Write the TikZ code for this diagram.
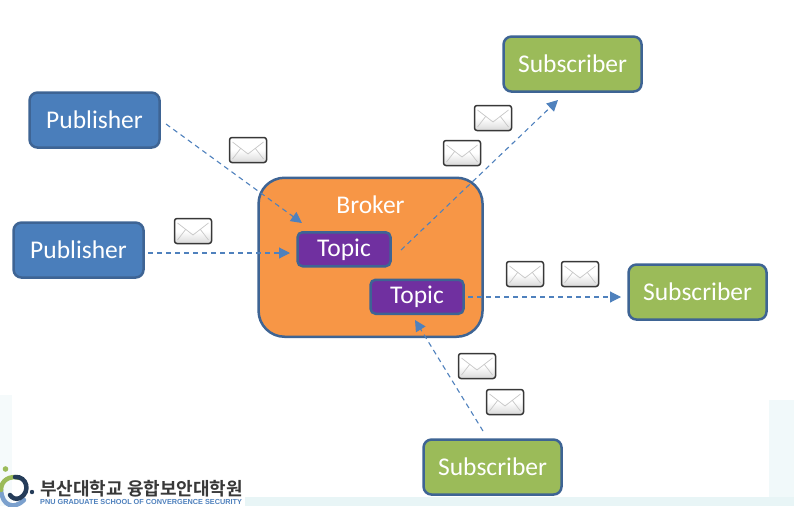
\documentclass[tikz,border=0pt]{standalone}
\usepackage{fontspec}
\setmainfont{Carlito}
\newfontfamily\krfont{Noto Sans CJK KR}[BoldFont={* Bold}]
\newfontfamily\logofont{Liberation Sans}
\usetikzlibrary{arrows.meta,shadings,calc}
\definecolor{edgeblue}{HTML}{3E6494}
\definecolor{pubblue}{HTML}{4A7EBB}
\definecolor{subgreen}{HTML}{9BBB59}
\definecolor{brokerorange}{HTML}{F79646}
\definecolor{topicpurple}{HTML}{7030A0}
\definecolor{flow}{HTML}{4F81BD}
\definecolor{tint}{HTML}{E8F5F6}
\tikzset{
  box/.style={draw=edgeblue,line width=2.5pt,rounded corners=8pt,text=white,font=\fontsize{25.5}{28}\selectfont,anchor=north west,inner sep=0pt,align=center},
  pubbox/.style={box,fill=pubblue,minimum width=130pt,minimum height=55pt},
  subbox/.style={box,fill=subgreen,minimum width=138pt,minimum height=55pt},
  brokerbox/.style={box,fill=brokerorange,rounded corners=26pt,minimum width=224pt,minimum height=159pt},
  topicbox/.style={box,fill=topicpurple,rounded corners=5pt,minimum width=93pt,minimum height=34pt},
  topiclabel/.style={text=white,font=\fontsize{25.5}{28}\selectfont,inner sep=0pt},
  flowline/.style={draw=flow,line width=1.1pt,dash pattern=on 5pt off 4pt,-{Triangle[length=11pt,width=11pt]}},
  envbox/.style={draw=black!78,line width=1.5pt,rounded corners=2.5pt,top color=white,bottom color=black!15,middle color=white,minimum width=37pt,minimum height=25pt,inner sep=0pt},
  envline/.style={draw=black!22,line width=.7pt},
  logotext/.style={anchor=west,inner sep=0pt,text=black!78}
}
\newcommand{\envelope}[3]{%
  \node[envbox] (#1) at (#2,#3) {};
  \draw[envline] ($(#1.center)+(-15.5,-8)$) -- ($(#1.center)+(0,4)$) -- ($(#1.center)+(15.5,-8)$);
  \draw[envline] ($(#1.center)+(-15.5,9)$) -- ($(#1.center)+(-7,-2)$);
  \draw[envline] ($(#1.center)+(15.5,9)$) -- ($(#1.center)+(7,-2)$);
}
\begin{document}
\begin{tikzpicture}[x=1pt,y=-1pt]
\useasboundingbox (0,0) rectangle (794,506);
\fill[white] (0,0) rectangle (794,506);
\fill[tint!45] (0,395) rectangle (12,506);
\fill[tint!60] (769,400) rectangle (794,506);
\fill[tint] (245,497) rectangle (794,506);

\node[brokerbox] (broker) at (257.3,176.5) {};
\node[text=white,font=\fontsize{25.5}{28}\selectfont] (brokerlabel) at (370.5,205) {Broker};
\node[topicbox] (topicA) at (296.3,231) {};
\node[topicbox] (topicB) at (369.3,278.5) {};
\node[topiclabel] (topicAlabel) at (344,250) {Topic};
\node[topiclabel] (topicBlabel) at (417,297) {Topic};

\node[pubbox] (pubA) at (28.3,91.3) {Publisher};
\node[pubbox] (pubB) at (12.3,221.3) {Publisher};
\node[subbox] (subA) at (502.3,35.3) {Subscriber};
\node[subbox] (subB) at (627.3,263.3) {Subscriber};
\node[subbox] (subC) at (422.3,438.3) {Subscriber};

\coordinate (startA) at (166,124);
\coordinate (endA) at (302,223);
\coordinate (startB) at (148,253);
\coordinate (endB) at (290,253);
\coordinate (startC) at (401,250);
\coordinate (endC) at (558,100);
\coordinate (startD) at (468,297);
\coordinate (endD) at (621,297);
\coordinate (startE) at (483,431);
\coordinate (endE) at (415,320);
\draw[flowline] (startA) -- (endA);
\draw[flowline] (startB) -- (endB);
\draw[flowline] (startC) -- (endC);
\draw[flowline] (startD) -- (endD);
\draw[flowline] (startE) -- (endE);

\envelope{envA}{248}{150}
\envelope{envB}{193}{231}
\envelope{envC}{493}{118}
\envelope{envD}{462}{153}
\envelope{envE}{525}{274}
\envelope{envF}{580}{274}
\envelope{envG}{477}{366}
\envelope{envH}{505}{402}

% logo
\begin{scope}
\clip (0,462) rectangle (245,506);
\draw[line width=4.5pt,color=flow!75,line cap=round] (24,500) .. controls (14,510) and (2,506) .. (1,490);
\draw[line width=4.5pt,color=subgreen,line cap=round] (1,490) .. controls (1,480) and (10,475) .. (20,478);
\draw[line width=4.5pt,color=edgeblue!60!black,line cap=round] (15,477) .. controls (27,476) and (31,492) .. (20,498) .. controls (16,500) and (12,498) .. (10,495);
\fill[subgreen] (5.5,469) circle (2.8pt);
\fill[edgeblue!60!black] (32,492) circle (2.2pt);
\node[logotext,font=\krfont\bfseries\fontsize{18}{20}\selectfont] (logoKr) at (40,489) {부산대학교 융합보안대학원};
\end{scope}
\node[logotext,text=flow,font=\logofont\bfseries\fontsize{7.3}{8}\selectfont] (logoEn) at (40,502.3) {PNU GRADUATE SCHOOL OF CONVERGENCE SECURITY};
\end{tikzpicture}
\end{document}
